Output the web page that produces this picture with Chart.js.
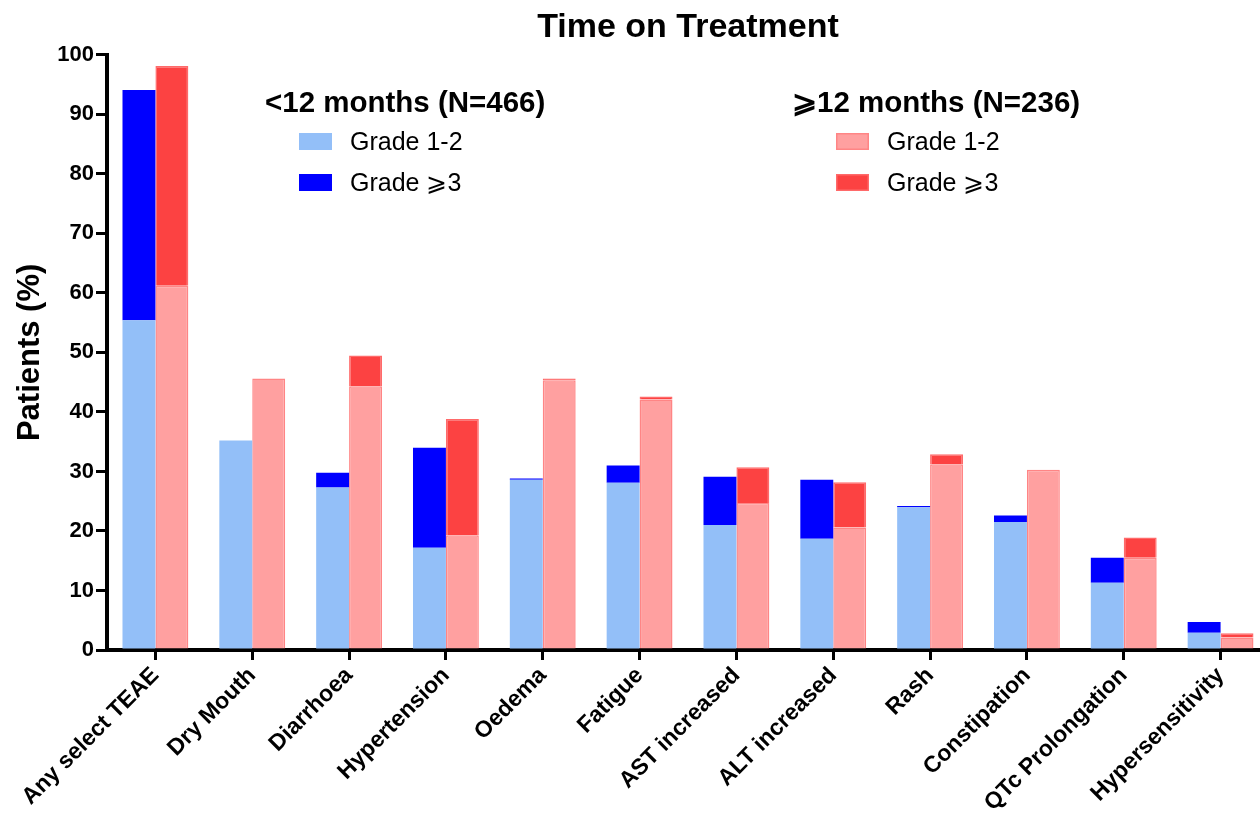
<!DOCTYPE html>
<html>
<head>
<meta charset="utf-8">
<script src="https://cdn.jsdelivr.net/npm/chart.js@4.4.0/dist/chart.umd.min.js"></script>
<style>
  html, body { margin: 0; padding: 0; background: #fff; overflow: hidden; }
  canvas { display: block; }
</style>
</head>
<body>
<canvas id="chart" width="1270" height="817"></canvas>
<script>
const categories = ['Any select TEAE', 'Dry Mouth', 'Diarrhoea', 'Hypertension', 'Oedema', 'Fatigue',
  'AST increased', 'ALT increased', 'Rash', 'Constipation', 'QTc Prolongation', 'Hypersensitivity'];

// <12 months (N=466)
const under12Grade12 = [55.4, 35.2, 27.3, 17.2, 28.6, 28.1, 21.0, 18.7, 24.0, 21.5, 11.3, 2.9];
const under12Grade3 = [38.7, 0, 2.5, 16.8, 0.2, 2.9, 8.1, 9.9, 0.2, 1.1, 4.2, 1.8];
// >=12 months (N=236)
const over12Grade12 = [61.2, 45.6, 44.3, 19.3, 45.3, 42.1, 24.7, 20.6, 31.2, 30.3, 15.5, 2.1];
const over12Grade3 = [36.9, 0, 5.2, 19.5, 0.3, 0.5, 6.0, 7.6, 1.7, 0, 3.4, 0.7];

const yTicks = [0, 10, 20, 30, 40, 50, 60, 70, 80, 90, 100];

const FONT = 'Arial, "Liberation Sans", Helvetica, sans-serif';

// legend drawn in two groups, like the original figure
const groupLegend = {
  id: 'groupLegend',
  afterDraw(chart) {
    const ctx = chart.ctx;
    const ds = chart.data.datasets;
    const groups = [
      { title: '<12 months (N=466)', x: 265, boxX: 299, items: [ds[0], ds[1]] },
      { title: '\u2A7E12 months (N=236)', x: 792, boxX: 836, items: [ds[2], ds[3]] }
    ];
    ctx.save();
    ctx.textBaseline = 'alphabetic';
    ctx.textAlign = 'left';
    groups.forEach(g => {
      ctx.fillStyle = '#000';
      ctx.font = 'bold 29.5px ' + FONT;
      ctx.fillText(g.title, g.x, 112);
      g.items.forEach((d, i) => {
        const y = 133 + i * 41;
        ctx.fillStyle = d.backgroundColor;
        ctx.fillRect(g.boxX, y, 33, 17);
        if (d.borderWidth) {
          ctx.strokeStyle = d.borderColor;
          ctx.lineWidth = 1.5;
          ctx.strokeRect(g.boxX + 0.75, y + 0.75, 31.5, 15.5);
        }
        ctx.fillStyle = '#000';
        ctx.font = '25px ' + FONT;
        ctx.fillText(d.label, g.boxX + 51, y + 17);
      });
    });
    ctx.restore();
  }
};

const ctx = document.getElementById('chart').getContext('2d');

new Chart(ctx, {
  type: 'bar',
  data: {
    labels: categories,
    datasets: [
      { label: 'Grade 1-2', data: under12Grade12, stack: 'under12',
        backgroundColor: '#93BFF8', borderWidth: 0 },
      { label: 'Grade \u2A7E3', data: under12Grade3, stack: 'under12',
        backgroundColor: '#0000FF', borderWidth: 0 },
      { label: 'Grade 1-2', data: over12Grade12, stack: 'over12',
        backgroundColor: '#FFA0A0', borderColor: '#FF8585', borderWidth: 1.5 },
      { label: 'Grade \u2A7E3', data: over12Grade3, stack: 'over12',
        backgroundColor: '#FC4242', borderColor: '#FF6A6A', borderWidth: 1.5 }
    ]
  },
  options: {
    responsive: false,
    animation: false,
    categoryPercentage: 0.68,
    barPercentage: 1.0,
    layout: { padding: { right: 1 } },
    plugins: {
      legend: { display: false },
      tooltip: { enabled: false },
      title: {
        display: true,
        text: 'Time on Treatment',
        fullSize: false,
        color: '#000',
        font: { family: FONT, size: 34, weight: 'bold' },
        padding: { top: 7, bottom: 7 }
      }
    },
    scales: {
      x: {
        stacked: true,
        grid: { display: true, drawOnChartArea: false, offset: false, color: '#000',
          lineWidth: 3, tickLength: 10, tickWidth: 3, tickColor: '#000' },
        border: { display: true, color: '#000', width: 4 },
        ticks: { color: '#000', font: { family: FONT, size: 23, weight: 'bold' },
          maxRotation: 45, minRotation: 45, autoSkip: false, padding: 2 },
        afterFit: scale => { scale.height = 167; }
      },
      y: {
        stacked: true,
        min: 0,
        max: 100,
        afterBuildTicks: scale => { scale.ticks = yTicks.map(v => ({ value: v })); },
        grid: { display: true, drawOnChartArea: false, color: '#000',
          lineWidth: 3, tickLength: 11, tickWidth: 3, tickColor: '#000' },
        border: { display: true, color: '#000', width: 4 },
        ticks: { color: '#000', font: { family: FONT, size: 22, weight: 'bold' }, padding: 2 },
        title: { display: true, text: 'Patients (%)', color: '#000',
          font: { family: FONT, size: 31, weight: 'bold' }, padding: { top: 12, bottom: 0 } },
        afterFit: scale => { scale.width = 107; }
      }
    }
  },
  plugins: [groupLegend]
});
</script>
</body>
</html>
